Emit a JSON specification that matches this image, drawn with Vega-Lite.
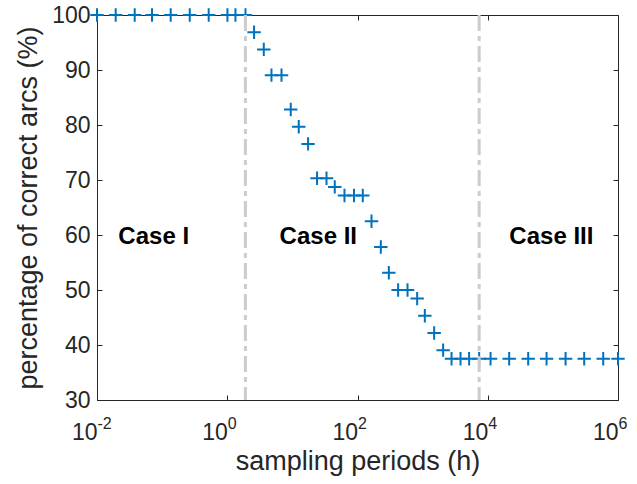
{
  "$schema": "https://vega.github.io/schema/vega-lite/v6.json",
  "width": 521,
  "height": 385,
  "autosize": {"type": "none"},
  "padding": {"left": 97, "top": 15, "right": 19, "bottom": 84},
  "background": "white",
  "config": {
    "view": {"stroke": "#262626", "strokeWidth": 1},
    "axis": {
      "grid": false,
      "domainColor": "#262626",
      "tickColor": "#262626",
      "labelColor": "#262626",
      "titleColor": "#262626",
      "labelFont": "Liberation Sans",
      "titleFont": "Liberation Sans",
      "labelFontSize": 23,
      "titleFontSize": 27,
      "titleFontWeight": "normal",
      "tickSize": -5,
      "labelFlush": false,
      "labelOverlap": false
    }
  },
  "datasets": {
    "points": [
      {"period": 0.01, "pct": 100},
      {"period": 0.01936, "pct": 100},
      {"period": 0.03793, "pct": 100},
      {"period": 0.06998, "pct": 100},
      {"period": 0.1355, "pct": 100},
      {"period": 0.2655, "pct": 100},
      {"period": 0.5188, "pct": 100},
      {"period": 1.007, "pct": 100},
      {"period": 1.337, "pct": 100},
      {"period": 1.905, "pct": 100},
      {"period": 2.582, "pct": 96.875},
      {"period": 3.639, "pct": 93.75},
      {"period": 4.775, "pct": 89.0625},
      {"period": 6.808, "pct": 89.0625},
      {"period": 9.441, "pct": 82.8125},
      {"period": 12.53, "pct": 79.6875},
      {"period": 17.42, "pct": 76.5625},
      {"period": 23.93, "pct": 70.3125},
      {"period": 33.42, "pct": 70.3125},
      {"period": 44.77, "pct": 68.75},
      {"period": 63.1, "pct": 67.1875},
      {"period": 88.31, "pct": 67.1875},
      {"period": 120.5, "pct": 67.1875},
      {"period": 164.1, "pct": 62.5},
      {"period": 228.0, "pct": 57.8125},
      {"period": 302.7, "pct": 53.125},
      {"period": 420.7, "pct": 50},
      {"period": 586.1, "pct": 50},
      {"period": 824.1, "pct": 48.4375},
      {"period": 1081, "pct": 45.3125},
      {"period": 1503, "pct": 42.1875},
      {"period": 2065, "pct": 39.0625},
      {"period": 2780, "pct": 37.5},
      {"period": 3819, "pct": 37.5},
      {"period": 5176, "pct": 37.5},
      {"period": 7379, "pct": 37.5},
      {"period": 11041, "pct": 37.5},
      {"period": 21330, "pct": 37.5},
      {"period": 41783, "pct": 37.5},
      {"period": 79983, "pct": 37.5},
      {"period": 156675, "pct": 37.5},
      {"period": 302691, "pct": 37.5},
      {"period": 592925, "pct": 37.5},
      {"period": 1000000, "pct": 37.5}
    ],
    "bounds": [
      {"period": 1.9},
      {"period": 7380}
    ],
    "labels": [
      {"period": 0.0743, "pct": 59.7, "label": "Case I"},
      {"period": 25, "pct": 59.7, "label": "Case II"},
      {"period": 94800, "pct": 59.7, "label": "Case III"}
    ]
  },
  "layer": [
    {
      "data": {"name": "points"},
      "mark": {
        "type": "point",
        "shape": "M-1,0H1M0,-1V1",
        "filled": false,
        "stroke": "#0072BD",
        "strokeWidth": 2,
        "size": 180,
        "opacity": 1
      },
      "encoding": {
        "x": {
          "field": "period",
          "type": "quantitative",
          "scale": {"type": "log", "domain": [0.01, 1000000], "nice": false},
          "axis": {
            "orient": "bottom",
            "values": [0.01, 1, 100, 10000, 1000000],
            "labelExpr": "'10'",
            "labelAlign": "right",
            "labelDx": 7,
            "labelPadding": 26,
            "title": "sampling periods (h)",
            "titlePadding": 4
          }
        },
        "y": {
          "field": "pct",
          "type": "quantitative",
          "scale": {"domain": [30, 100], "nice": false, "zero": false},
          "axis": {
            "orient": "left",
            "values": [30, 40, 50, 60, 70, 80, 90, 100],
            "labelPadding": 12,
            "title": "percentage of correct arcs (%)",
            "titlePadding": 9
          }
        }
      }
    },
    {
      "data": {"name": "bounds"},
      "mark": {
        "type": "rule",
        "color": "#cccccc",
        "strokeWidth": 3,
        "strokeDash": [16, 5, 5, 5]
      },
      "encoding": {
        "x": {
          "field": "period",
          "type": "quantitative",
          "axis": {
            "orient": "bottom",
            "values": [0.01, 1, 100, 10000, 1000000],
            "labelExpr": "datum.value < 0.1 ? '-2' : datum.value < 10 ? '0' : datum.value < 1000 ? '2' : datum.value < 100000 ? '4' : '6'",
            "labelAlign": "left",
            "labelDx": 8,
            "labelFontSize": 16,
            "labelPadding": 15,
            "ticks": false,
            "tickSize": 0,
            "domain": false,
            "title": null
          }
        }
      }
    },
    {
      "data": {"name": "labels"},
      "mark": {
        "type": "text",
        "font": "Liberation Sans",
        "fontWeight": "bold",
        "fontSize": 24,
        "color": "black",
        "align": "center",
        "baseline": "middle"
      },
      "encoding": {
        "x": {
          "field": "period",
          "type": "quantitative",
          "axis": {
            "orient": "top",
            "values": [0.01, 1, 100, 10000, 1000000],
            "labels": false,
            "domain": false,
            "title": null
          }
        },
        "y": {
          "field": "pct",
          "type": "quantitative",
          "axis": {
            "orient": "right",
            "values": [30, 40, 50, 60, 70, 80, 90, 100],
            "labels": false,
            "domain": false,
            "title": null
          }
        },
        "text": {"field": "label"}
      }
    }
  ],
  "resolve": {"axis": {"x": "independent", "y": "independent"}}
}
